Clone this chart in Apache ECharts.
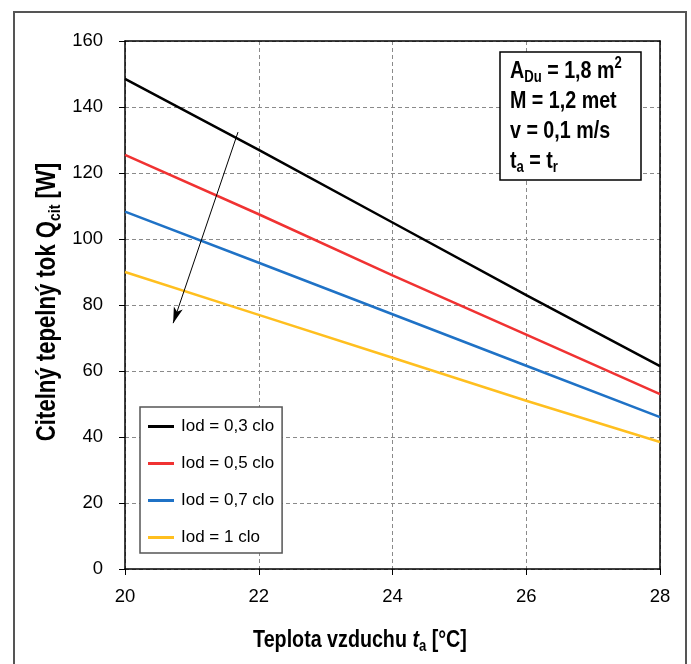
<!DOCTYPE html>
<html><head><meta charset="utf-8">
<script src="https://cdn.jsdelivr.net/npm/echarts@6/dist/echarts.min.js"></script>
<style>html,body{margin:0;padding:0;background:#fff}#c{width:691px;height:664px}</style>
</head><body><div id="c"></div>
<script>
const xValues = [20, 22, 24, 26, 28];
const seriesNames = ['Iod = 0,3 clo', 'Iod = 0,5 clo', 'Iod = 0,7 clo', 'Iod = 1 clo'];
const iod03 = [148.5, 127, 105, 83, 61.5];
const iod05 = [125.5, 107.5, 89, 71, 53];
const iod07 = [108.3, 92.8, 77.2, 61.6, 46];
const iod10 = [90, 77, 64, 51, 38.5];
const colors = ['#000000', '#f03232', '#1f72c6', '#ffbf1f'];
const arrowStart = [21.69, 132.4];
const arrowEnd = [20.72, 74.5];
const yTicks = [0, 20, 40, 60, 80, 100, 120, 140, 160];
const xTicks = [20, 22, 24, 26, 28];

const FONT = '"Liberation Sans", Arial, sans-serif';
const NARROW = 0.82;
const all = [iod03, iod05, iod07, iod10];
const series = all.map((vals, i) => ({
  name: seriesNames[i],
  type: 'line',
  data: vals.map((v, j) => [xValues[j], v]),
  showSymbol: false,
  symbol: 'none',
  lineStyle: { color: colors[i], width: 2.5 },
  itemStyle: { color: colors[i] },
  z: 3
}));
series[0].markLine = {
  silent: true,
  animation: false,
  label: { show: false },
  lineStyle: { color: '#000', width: 1, type: 'solid' },
  data: [[
    { coord: arrowStart, symbol: 'none' },
    { coord: arrowEnd, symbol: 'arrow', symbolSize: [7, 16] }
  ]]
};

const chart = echarts.init(document.getElementById('c'), null, { renderer: 'canvas' });
chart.setOption({
  animation: false,
  backgroundColor: '#fff',
  textStyle: { fontFamily: FONT },
  grid: { left: 125, right: 31, top: 41, bottom: 95 },
  xAxis: [{
    type: 'value', min: 20, max: 28, interval: 2,
    axisLine: { show: true, lineStyle: { color: '#000', width: 1.5 } },
    axisTick: { show: true, inside: false, length: 6, lineStyle: { color: '#000' } },
    axisLabel: { color: '#000', fontSize: 18.5, fontFamily: FONT, margin: 18,
      formatter: v => xTicks.includes(v) ? String(v) : '' },
    splitLine: { show: true, lineStyle: { color: '#8a8a8a', type: [4, 3], width: 1 } }
  }, {
    type: 'value', min: 20, max: 28, position: 'top',
    axisLine: { show: true, onZero: false, lineStyle: { color: '#000', width: 1.5 } },
    axisTick: { show: false }, axisLabel: { show: false }, splitLine: { show: false }
  }],
  yAxis: [{
    type: 'value', min: 0, max: 160, interval: 20,
    axisLine: { show: true, lineStyle: { color: '#000', width: 1.5 } },
    axisTick: { show: true, inside: false, length: 6, lineStyle: { color: '#000' } },
    axisLabel: { color: '#000', fontSize: 18.5, fontFamily: FONT, margin: 22,
      formatter: v => yTicks.includes(v) ? String(v) : '' },
    splitLine: { show: true, lineStyle: { color: '#8a8a8a', type: [4, 3], width: 1 } }
  }, {
    type: 'value', min: 0, max: 160, position: 'right',
    axisLine: { show: true, onZero: false, lineStyle: { color: '#000', width: 1.5 } },
    axisTick: { show: false }, axisLabel: { show: false }, splitLine: { show: false }
  }],
  legend: {
    show: true,
    data: seriesNames,
    orient: 'vertical',
    left: 140, top: 407,
    padding: [11, 8, 7, 8],
    itemGap: 20,
    itemWidth: 26, itemHeight: 3,
    icon: 'rect',
    backgroundColor: '#fff',
    borderColor: '#555', borderWidth: 1.5,
    textStyle: { color: '#000', fontSize: 17, fontFamily: FONT, padding: [0, 0, 0, 2] },
    selectedMode: false
  },
  graphic: [{
    type: 'rect', silent: true, z: 100,
    shape: { x: 14, y: 12, width: 672, height: 660 },
    style: { fill: 'none', stroke: '#555', lineWidth: 2 }
  }, {
    type: 'rect', silent: true, z: 100,
    shape: { x: 500, y: 52, width: 141, height: 128 },
    style: { fill: '#fff', stroke: '#000', lineWidth: 1.5 }
  }, {
    type: 'text', silent: true, z: 101,
    x: 510, y: 56, scaleX: NARROW,
    style: {
      text: '{b|A}{s|Du}{b| = 1,8 m}{p|2}\n{b|M = 1,2 met}\n{b|v = 0,1 m/s}\n{b|t}{s|a}{b| = t}{s|r}',
      fill: '#000',
      rich: {
        b: { fontSize: 24, fontWeight: 'bold', fontFamily: FONT, lineHeight: 30, fill: '#000' },
        s: { fontSize: 16, fontWeight: 'bold', fontFamily: FONT, verticalAlign: 'bottom', lineHeight: 14, fill: '#000' },
        p: { fontSize: 16, fontWeight: 'bold', fontFamily: FONT, verticalAlign: 'top', lineHeight: 16, fill: '#000' }
      }
    }
  }, {
    type: 'text', silent: true, z: 101,
    x: 360, y: 640, scaleX: NARROW,
    style: {
      text: '{b|Teplota vzduchu }{i|t}{s|a}{b| [°C]}',
      align: 'center', verticalAlign: 'middle',
      rich: {
        b: { fontSize: 24, fontWeight: 'bold', fill: '#000', fontFamily: FONT, lineHeight: 30 },
        i: { fontSize: 24, fontWeight: 'bold', fontStyle: 'italic', fill: '#000', fontFamily: FONT, lineHeight: 30 },
        s: { fontSize: 16, fontWeight: 'bold', fill: '#000', fontFamily: FONT, verticalAlign: 'bottom', lineHeight: 14 }
      }
    }
  }, {
    type: 'text', silent: true, z: 101,
    x: 48, y: 302, rotation: Math.PI / 2, scaleX: NARROW,
    style: {
      text: '{b|Citelný tepelný tok Q}{s|cit}{b| [W]}',
      align: 'center', verticalAlign: 'middle',
      rich: {
        b: { fontSize: 27, fontWeight: 'bold', fill: '#000', fontFamily: FONT, lineHeight: 32 },
        s: { fontSize: 17, fontWeight: 'bold', fill: '#000', fontFamily: FONT, verticalAlign: 'bottom', lineHeight: 15 }
      }
    }
  }],
  series: series
});
</script></body></html>
